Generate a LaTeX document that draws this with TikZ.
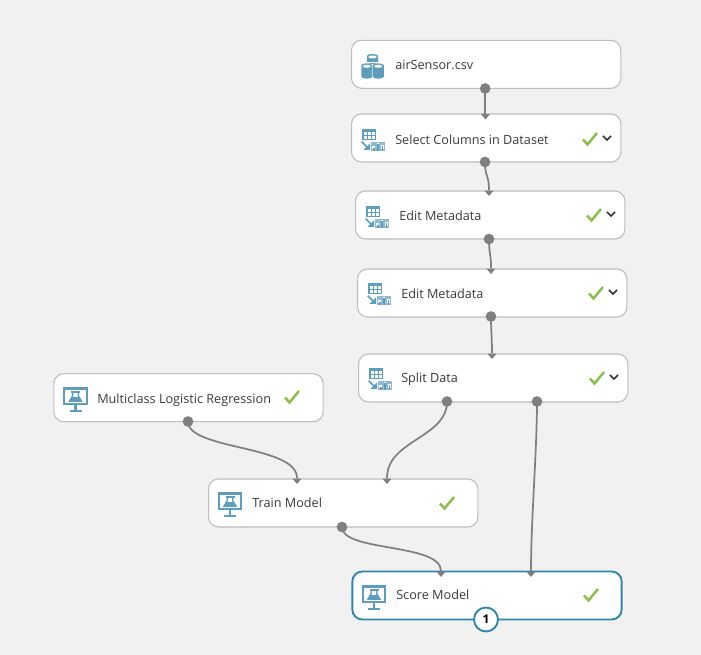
\documentclass[tikz,border=0pt]{standalone}
\usepackage{fontspec}
\setmainfont{Open Sans}
\usetikzlibrary{shapes.geometric}
\definecolor{bg}{HTML}{F1F1F1}
\definecolor{edge}{HTML}{BDBDBD}
\definecolor{port}{HTML}{7F7F7F}
\definecolor{wire}{HTML}{808080}
\definecolor{ico}{HTML}{5F9DBD}
\definecolor{okc}{HTML}{8CBF4D}
\definecolor{sel}{HTML}{2E86AB}
\definecolor{txt}{HTML}{3A3A3A}
\tikzset{
  x=0.75pt,y=-0.75pt,
  modbox/.style={draw=edge,line width=0.8pt,fill=white,rounded corners=7.5pt,minimum width=202pt,minimum height=36pt,inner sep=0pt,outer sep=0pt},
  selbox/.style={modbox,draw=sel,line width=1.4pt},
  lab/.style={font=\fontsize{9.5}{11}\selectfont,text=txt,anchor=base west,inner sep=0pt},
  outport/.style={circle,fill=port,minimum size=8pt,inner sep=0pt,outer sep=0pt},
  inport/.style={isosceles triangle,isosceles triangle apex angle=80,shape border rotate=-90,fill=port,minimum width=6.5pt,minimum height=4pt,inner sep=0pt,outer sep=0pt},
  wire/.style={draw=wire,line width=1.3pt},
  badge/.style={circle,draw=sel,line width=1.4pt,fill=white,minimum size=18pt,inner sep=0pt,font=\fontsize{9}{9}\selectfont\bfseries,text=black},
  okline/.style={draw=okc,line width=1.9pt},
  chev/.style={draw=txt!90!black,line width=1.2pt}
}
\newcommand{\okmark}[2]{\draw[okline] (#1-7,#2+0.5) -- (#1-2.5,#2+5.5) -- (#1+7,#2-6);}
\newcommand{\chevmark}[2]{\draw[chev] (#1-4,#2-2) -- (#1,#2+2) -- (#1+4,#2-2);}
% cylinder: centre x, top y, bottom y, half width
\newcommand{\dbcyl}[4]{%
  \fill[ico] (#1-#4,#2+2) -- (#1-#4,#3-2) arc[start angle=180,end angle=0,x radius=#4,y radius=2]
     -- (#1+#4,#2+2) arc[start angle=0,end angle=-180,x radius=#4,y radius=2] -- cycle;
  \fill[white] (#1,#2+3) ellipse[x radius=#4-1.5,y radius=1.5];}
\newcommand{\dbicon}[2]{%
  \dbcyl{#1-0.5}{#2-11}{#2-1}{5.7}
  \fill[white] (#1-12.5,#2-3) rectangle (#1+11.5,#2-1.5);
  \dbcyl{#1-6.2}{#2-1.7}{#2+13.7}{5.5}
  \dbcyl{#1+5.3}{#2-1.7}{#2+13.7}{5.5}}
\newcommand{\dataicon}[2]{%
  \begin{scope}[shift={(#1,#2)}]
  \fill[ico] (-11,-10.7) rectangle (2.7,0);
  \foreach \a in {-9.3,-5.2,-1.1} \foreach \b in {-7.7,-3.7}
     \fill[white] (\a,\b) rectangle +(2.8,2.4);
  \fill[ico!70] (-2,1.7) rectangle (12,11);
  \fill[white] (-0.6,6.5) rectangle (2,9.5);
  \fill[white] (3.8,3.2) rectangle (6.2,9.5);
  \fill[white] (8,4.8) rectangle (10.6,9.5);
  \fill[ico] (0.4,7.6) rectangle (1.6,11);
  \fill[ico] (4.4,4.2) rectangle (5.7,11);
  \fill[ico] (8.6,5.8) rectangle (10,11);
  \draw[ico,line width=1.3pt] (-11.3,1.7) -- (-5,8);
  \fill[ico] (-3,10) -- (-3,3.5) -- (-9.5,10) -- cycle;
  \end{scope}}
\newcommand{\flaskicon}[2]{%
  \begin{scope}[shift={(#1,#2)}]
  \draw[ico,line width=1.7pt] (-11.3,-9.5) rectangle (11.3,6);
  \fill[ico] (-1.3,6) rectangle (1.3,12.5);
  \draw[ico,line width=1.4pt] (-6,12.7) -- (6,12.7);
  \draw[ico,line width=1.3pt] (-4.5,-6.3) -- (4.5,-6.3);
  \draw[ico,line width=1pt] (-2.7,-6.3) -- (-2.7,-2.5) -- (-6,3.2) -- (6,3.2) -- (2.7,-2.5) -- (2.7,-6.3);
  \fill[ico] (-3.7,-0.8) -- (-6,3.2) -- (6,3.2) -- (3.7,-0.8) -- cycle;
  \end{scope}}
\begin{document}
\begin{tikzpicture}
\fill[bg] (0,0) rectangle (701,655);
\useasboundingbox (0,0) rectangle (701,655);
\node[modbox] (a) at (486.2,64.3) {};
\node[modbox] (b) at (486.2,138) {};
\node[modbox] (c) at (490.2,215) {};
\node[modbox] (d) at (492.2,293) {};
\node[modbox] (e) at (493.2,378) {};
\node[modbox] (f) at (188.5,397.7) {};
\node[modbox] (g) at (343.2,503) {};
\node[selbox] (h) at (487,595.5) {};
\node[lab] (la) at (395,69.3) {airSensor.csv};
\node[lab] (lb) at (395,144.3) {Select Columns in Dataset};
\node[lab] (lc) at (399,220.5) {Edit Metadata};
\node[lab] (ld) at (401,298.5) {Edit Metadata};
\node[lab] (le) at (401,382.5) {Split Data};
\node[lab] (lf) at (97,403.3) {Multiclass Logistic Regression};
\node[lab] (lg) at (252,507.3) {Train Model};
\node[lab] (lh) at (396,600) {Score Model};
\dbicon{373}{65}
\dataicon{373}{140}
\dataicon{377}{217}
\dataicon{379}{294}
\dataicon{380}{379}
\flaskicon{75.5}{398}
\flaskicon{230}{503}
\flaskicon{374}{596}
\okmark{590}{139}\chevmark{607}{138}
\okmark{594}{215}\chevmark{611}{214}
\okmark{596}{293}\chevmark{613}{292}
\okmark{597}{378}\chevmark{614}{377}
\okmark{292}{397}
\okmark{447}{503}
\okmark{591}{595}
\coordinate (oa) at (485.2,88.5);
\coordinate (ob) at (485,162);
\coordinate (oc) at (489,239);
\coordinate (od) at (491,316.5);
\coordinate (ee1) at (447,401.5);
\coordinate (ee2) at (537,401.5);
\coordinate (of) at (188,421.5);
\coordinate (og) at (342,527);
\coordinate (ib) at (485.2,114);
\coordinate (ic) at (489,190);
\coordinate (id) at (491,268);
\coordinate (ie) at (492,353);
\coordinate (ig1) at (297,478);
\coordinate (ig2) at (387,478);
\coordinate (ih1) at (441,571);
\coordinate (ih2) at (531,571);
\draw[wire] (oa) -- (ib);
\draw[wire] (ob) .. controls (485,178) and (489,174) .. (ic);
\draw[wire] (oc) .. controls (489,255) and (491,252) .. (id);
\draw[wire] (od) .. controls (491,332) and (492,337) .. (ie);
\draw[wire] (of) .. controls (188,450) and (297,445) .. (ig1);
\draw[wire] (ee1) .. controls (447,438) and (387,440) .. (ig2);
\draw[wire] (ee2) .. controls (537,450) and (531,520) .. (ih2);
\draw[wire] (og) .. controls (342,552) and (441,543) .. (ih1);
\node[outport] (pa) at (oa) {};
\node[outport] (pb) at (ob) {};
\node[outport] (pc) at (oc) {};
\node[outport] (pd) at (od) {};
\node[outport] (pe1) at (ee1) {};
\node[outport] (pe2) at (ee2) {};
\node[outport] (pf) at (of) {};
\node[outport] (pg) at (og) {};
\node[inport,anchor=apex] (qb) at (485.5,119.5) {};
\node[inport,anchor=apex] (qc) at (489,196) {};
\node[inport,anchor=apex] (qd) at (491,274) {};
\node[inport,anchor=apex] (qe) at (492,359) {};
\node[inport,anchor=apex] (qg1) at (297,484) {};
\node[inport,anchor=apex] (qg2) at (387,484) {};
\node[inport,anchor=apex] (qh1) at (441,577) {};
\node[inport,anchor=apex] (qh2) at (531,577) {};
\node[badge] (n1) at (486,619.5) {1};
\end{tikzpicture}
\end{document}
